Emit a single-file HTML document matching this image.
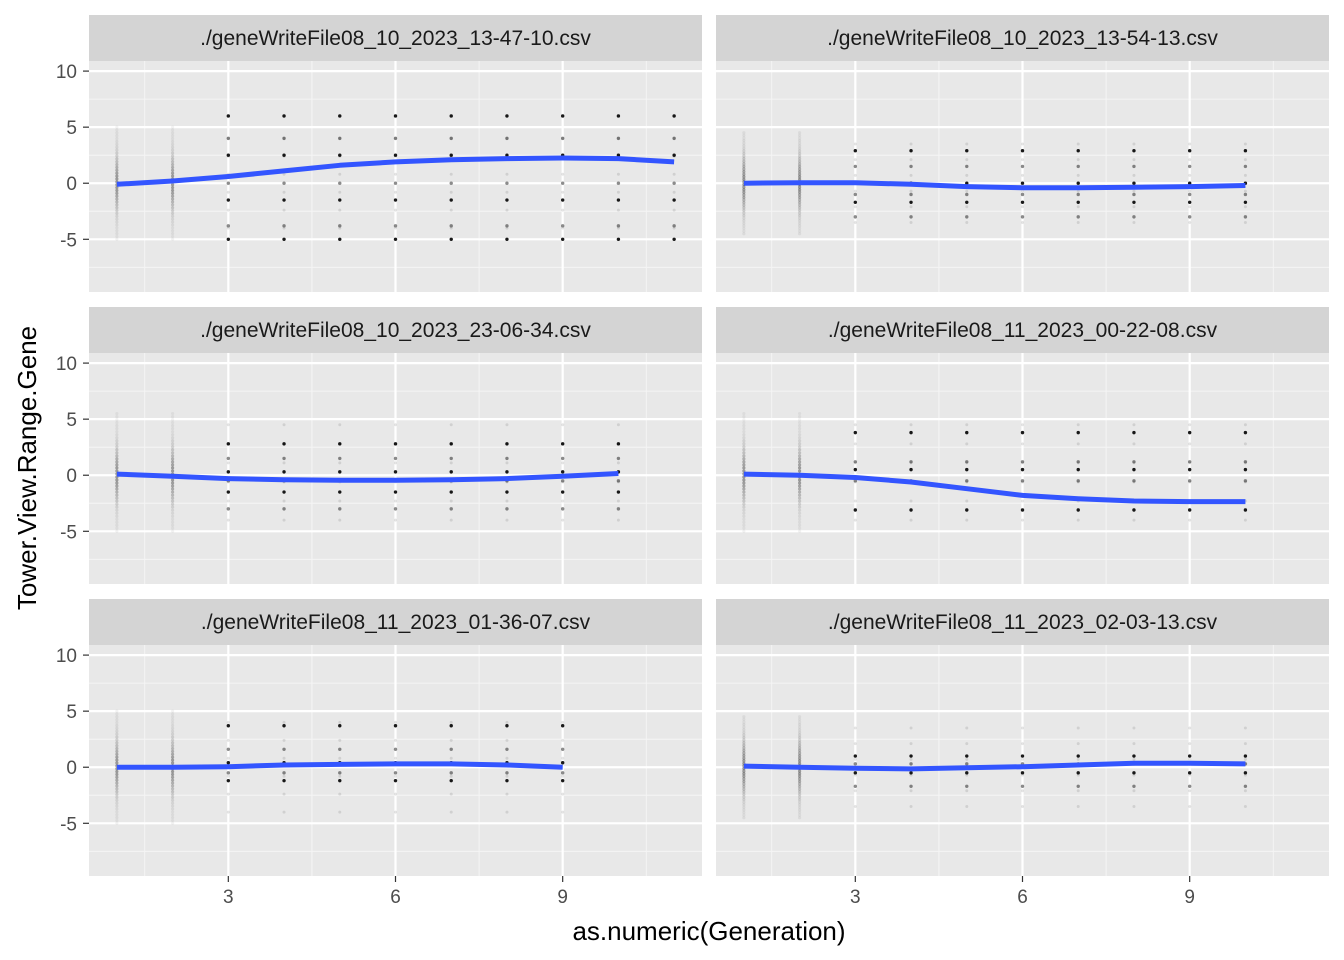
<!DOCTYPE html>
<html><head><meta charset="utf-8"><style>
body{margin:0;background:#fff;}
svg{display:block;font-family:"Liberation Sans",sans-serif;}
</style></head><body>
<svg id="chart" width="1344" height="960"></svg>
<script>
const titles=["./geneWriteFile08_10_2023_13-47-10.csv","./geneWriteFile08_10_2023_13-54-13.csv","./geneWriteFile08_10_2023_23-06-34.csv","./geneWriteFile08_11_2023_00-22-08.csv","./geneWriteFile08_11_2023_01-36-07.csv","./geneWriteFile08_11_2023_02-03-13.csv"];
const smooth1=[-0.1,0.2,0.6,1.1,1.6,1.9,2.1,2.2,2.25,2.2,1.9];
const smooth2=[0,0.05,0.05,-0.1,-0.3,-0.4,-0.4,-0.35,-0.3,-0.2];
const smooth3=[0.1,-0.1,-0.3,-0.4,-0.45,-0.45,-0.4,-0.3,-0.1,0.15];
const smooth4=[0.1,0.0,-0.2,-0.6,-1.2,-1.8,-2.1,-2.3,-2.35,-2.35];
const smooth5=[0,0,0.05,0.2,0.25,0.3,0.3,0.2,0];
const smooth6=[0.1,0,-0.1,-0.15,-0.05,0.05,0.2,0.35,0.35,0.3];
const smooths=[smooth1,smooth2,smooth3,smooth4,smooth5,smooth6];
const levels1=[6,4,2.5,0,-1.5,-3.8,-5];
const levels2=[2.9,1.5,0,-1,-1.7,-3];
const levels3=[2.8,1.5,0.3,-0.5,-1.5,-3];
const levels4=[3.8,1.2,0.5,-0.5,-3.1];
const levels5=[3.7,1.6,0.4,-0.5,-1.2];
const levels6=[1,0.3,-0.5,-1.7];
const levelsAll=[levels1,levels2,levels3,levels4,levels5,levels6];
const cloudMin=[-5,-4.5,-5,-5,-5,-4.5];
const cloudMax=[5,4.5,5.5,5.5,5,4.5];
const xTicks=[3,6,9];
const yTicks=[10,5,0,-5];
const svg=document.getElementById('chart');
const NS='http://www.w3.org/2000/svg';
function mk(t,a,p){const e=document.createElementNS(NS,t);for(const k in a)e.setAttribute(k,a[k]);(p||svg).appendChild(e);return e;}
const colX=[89,716],W=613,rowY=[61,353,645],H=231;
function sx(c,v){return colX[c]+(v-0.5)/11*W;}
function sy(r,v){return rowY[r]+(10.9-v)/20.6*H;}
for(let i=0;i<6;i++){
  const c=i%2,r=Math.floor(i/2);
  const g=mk('g',{});
  
  
  const bg=mk('rect',{x:colX[c],y:rowY[r],width:W,height:H,fill:'#e8e8e8'},g);
  
  
  const st=mk('rect',{x:colX[c],y:rowY[r]-46,width:W,height:46,fill:'#d4d4d4'},g);
  
  
  const tt=mk('text',{x:colX[c]+W/2,y:rowY[r]-16,'text-anchor':'middle','font-size':'21',fill:'#1a1a1a'},g);
  tt.textContent=titles[i];
  
  
  [1.5,4.5,7.5,10.5].forEach(v=>mk('line',{x1:sx(c,v),x2:sx(c,v),y1:rowY[r],y2:rowY[r]+H,stroke:'#f5f5f5','stroke-width':1},g));
  [7.5,2.5,-2.5,-7.5].forEach(v=>mk('line',{y1:sy(r,v),y2:sy(r,v),x1:colX[c],x2:colX[c]+W,stroke:'#f5f5f5','stroke-width':1},g));
  xTicks.forEach(v=>mk('line',{x1:sx(c,v),x2:sx(c,v),y1:rowY[r],y2:rowY[r]+H,stroke:'#fff','stroke-width':2.2},g));
  yTicks.forEach(v=>mk('line',{y1:sy(r,v),y2:sy(r,v),x1:colX[c],x2:colX[c]+W,stroke:'#fff','stroke-width':2.2},g));
  const sm=smooths[i],lv=levelsAll[i];
  for(let gi=0;gi<sm.length;gi++){
    const gen=gi+1;
    if(gen<=2){
      const n=40;
      for(let k=0;k<n;k++){
        const v=cloudMin[i]+(cloudMax[i]-cloudMin[i])*k/(n-1);
        const op=0.05+0.3*Math.exp(-v*v/5);
        mk('circle',{cx:sx(c,gen),cy:sy(r,v),r:1.6,fill:'#000','fill-opacity':op.toFixed(2)},g);
      }
    } else {
      lv.forEach((v,li)=>{
        const d=mk('circle',{cx:sx(c,gen),cy:sy(r,v),r:1.7,fill:'#000','fill-opacity':li%2?0.45:0.9},g);
        
        
      });
      for(let k=0;k<6;k++){const v=cloudMin[i]+1+(cloudMax[i]-cloudMin[i]-2)*k/5;
        mk('circle',{cx:sx(c,gen),cy:sy(r,v),r:1.5,fill:'#000','fill-opacity':0.1},g);}
    }
  }
  const pts=sm.map((v,gi)=>sx(c,gi+1).toFixed(1)+','+sy(r,v).toFixed(1)).join(' ');
  const ln=mk('polyline',{points:pts,fill:'none',stroke:'#3355ff','stroke-width':5,'stroke-linejoin':'round'},g);
  
  
  if(c===0){yTicks.forEach(v=>{
    mk('line',{x1:83,x2:89,y1:sy(r,v),y2:sy(r,v),stroke:'#333','stroke-width':1.2},g);
    const t=mk('text',{x:77,y:sy(r,v)+7,'text-anchor':'end','font-size':'19',fill:'#4d4d4d'},g);t.textContent=v;
    
    
  });}
  if(r===2){xTicks.forEach(v=>{
    mk('line',{x1:sx(c,v),x2:sx(c,v),y1:876,y2:882,stroke:'#333','stroke-width':1.2},g);
    const t=mk('text',{x:sx(c,v),y:903,'text-anchor':'middle','font-size':'19',fill:'#4d4d4d'},g);t.textContent=v;
    
    
  });}
}
const xt=mk('text',{x:709,y:940,'text-anchor':'middle','font-size':'26',fill:'#000'});
xt.textContent='as.numeric(Generation)';


const yt=mk('text',{x:36,y:468,'text-anchor':'middle','font-size':'26',fill:'#000',transform:'rotate(-90 36 468)'});
yt.textContent='Tower.View.Range.Gene';


</script>
</body></html>
